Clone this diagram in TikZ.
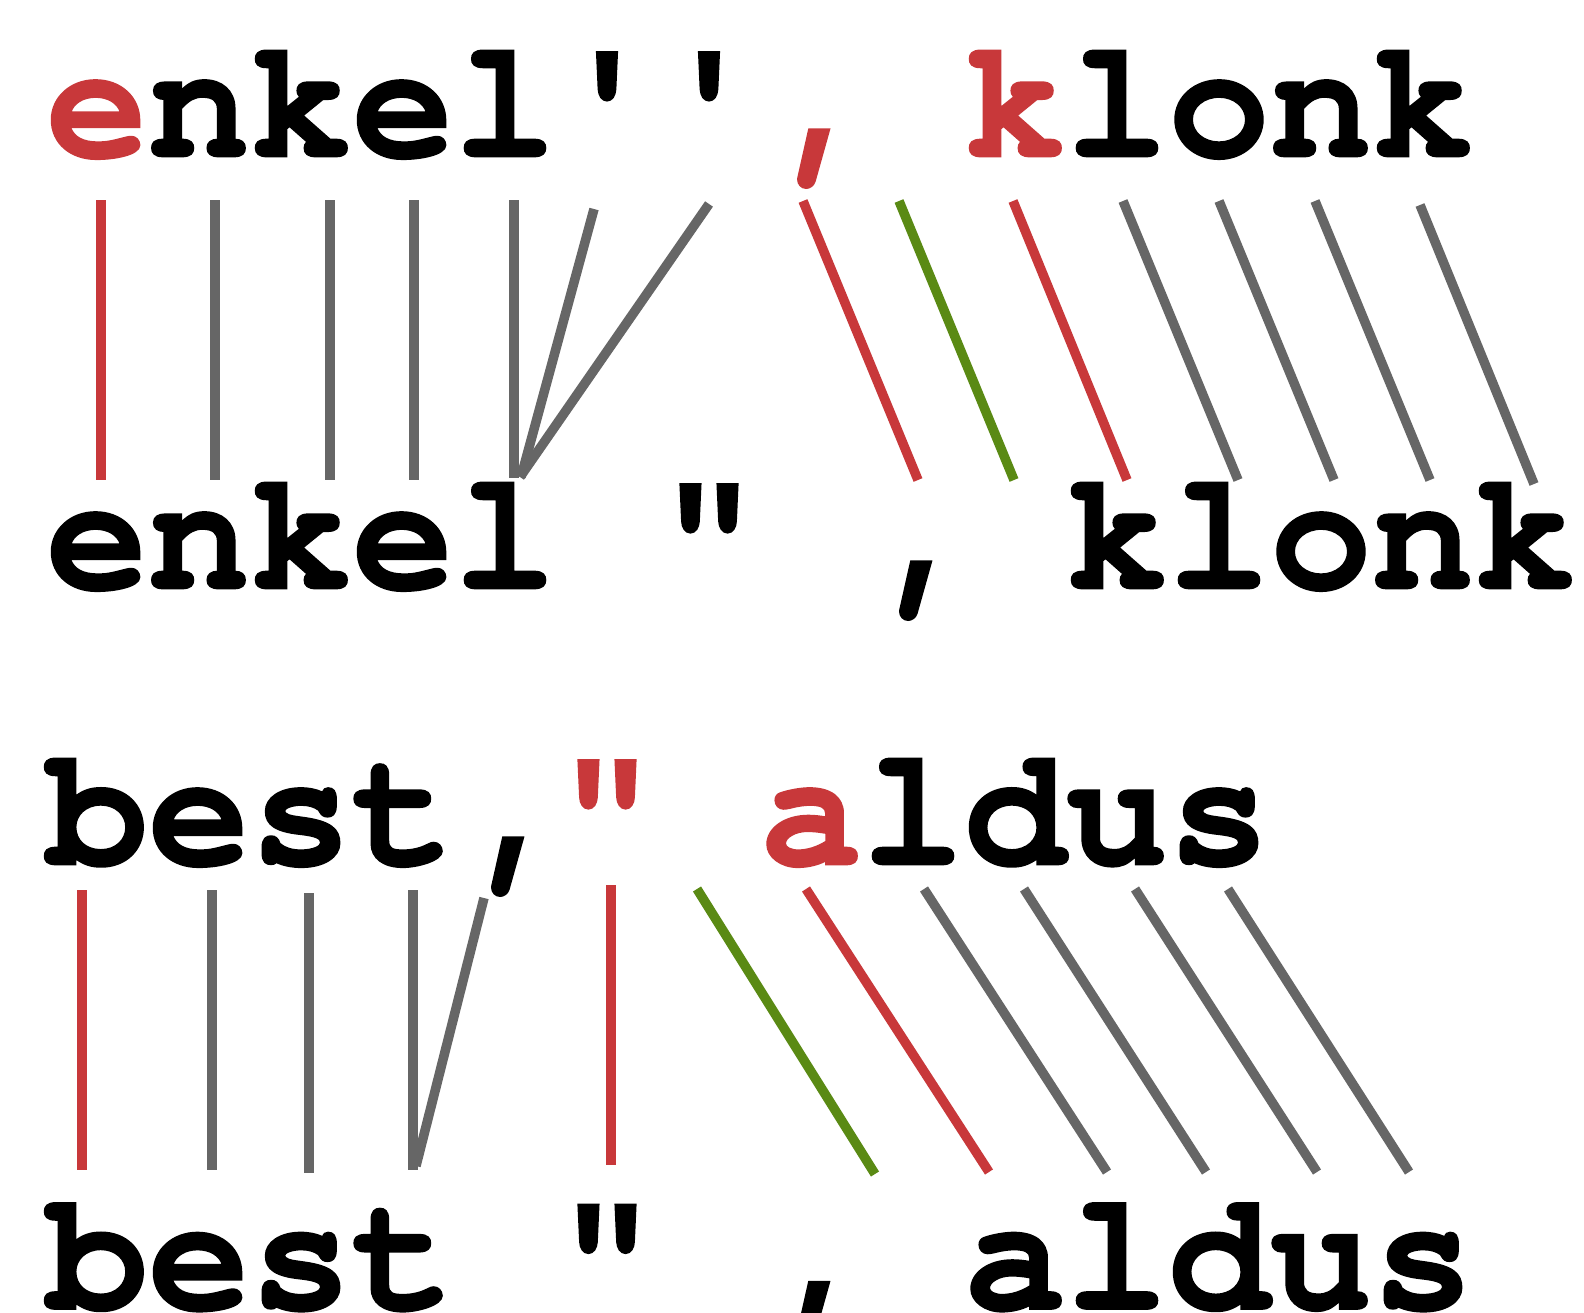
\documentclass[tikz,border=0pt]{standalone}
\usepackage{fontspec}
\setmonofont{texgyrecursor}[Extension=.otf, UprightFont=*-regular, BoldFont=*-bold, BoldFeatures={FakeBold=1}]
\definecolor{cred}{RGB}{200,56,58}
\definecolor{cgreen}{RGB}{90,138,20}
\definecolor{cgray}{RGB}{102,102,102}
\newcommand{\cmm}{\kern15pt,\kern-15pt}
\tikzset{
  link/.style={line width=9.5pt},
  linkred/.style={link, draw=cred},
  linkgreen/.style={link, draw=cgreen},
  linkgray/.style={link, draw=cgray},
  row/.style={anchor=base west, inner sep=0pt, outer sep=0pt,
    font=\ttfamily\bfseries\fontsize{170}{170}\selectfont}
}
\begin{document}
\begin{tikzpicture}[x=1pt,y=-1pt]
\useasboundingbox (0,0) rectangle (1584,1312);
\clip (0,0) rectangle (1584,1312);
\fill[white] (0,0) rectangle (1584,1312);

\node[row] (r1) at (46,156.5) {\textcolor{cred}{e}nkel\char39\char39\textcolor{cred}{\cmm} \textcolor{cred}{k}lonk};
\node[row] (r2) at (46,588.5) {enkel \char34{} \cmm{} klonk};
\node[row] (r3) at (46,864.5) {best\cmm\textcolor{cred}{\char34} \textcolor{cred}{a}ldus};
\node[row] (r4) at (46,1309) {best \char34{} \cmm{} aldus};

% upper block connectors
\foreach \i/\xa/\ya/\xb/\yb/\s in {
  1/101/200/101/480/linkred,
  2/215/200/215/480/linkgray,
  3/330/200/330/480/linkgray,
  4/414/200/414/480/linkgray,
  5/514/200/514/478/linkgray,
  6/594/209/521/477/linkgray,
  7/709/204/520/477/linkgray,
  8/803/201/918/480/linkred,
  9/899/201/1014/480/linkgreen,
  10/1013/201/1127/480/linkred,
  11/1123/201/1238/480/linkgray,
  12/1219/201/1334/480/linkgray,
  13/1315/201/1430/480/linkgray,
  14/1420/205/1534/484/linkgray}{
  \coordinate (ut\i) at (\xa,\ya);
  \coordinate (ub\i) at (\xb,\yb);
  \draw[\s] (ut\i) -- (ub\i);
}

% lower block connectors
\foreach \i/\xa/\ya/\xb/\yb/\s in {
  1/82/890/82/1170/linkred,
  2/212/890/212/1170/linkgray,
  3/309/893/309/1173/linkgray,
  4/413/890/413/1170/linkgray,
  5/484/898/416/1166/linkgray,
  6/611/885/611/1165/linkred,
  7/697/889/875/1174/linkgreen,
  8/806/889/989/1172/linkred,
  9/924/889/1107/1172/linkgray,
  10/1024/889/1206/1172/linkgray,
  11/1135/889/1317/1172/linkgray,
  12/1228/889/1409/1172/linkgray}{
  \coordinate (lt\i) at (\xa,\ya);
  \coordinate (lb\i) at (\xb,\yb);
  \draw[\s] (lt\i) -- (lb\i);
}
\end{tikzpicture}
\end{document}
